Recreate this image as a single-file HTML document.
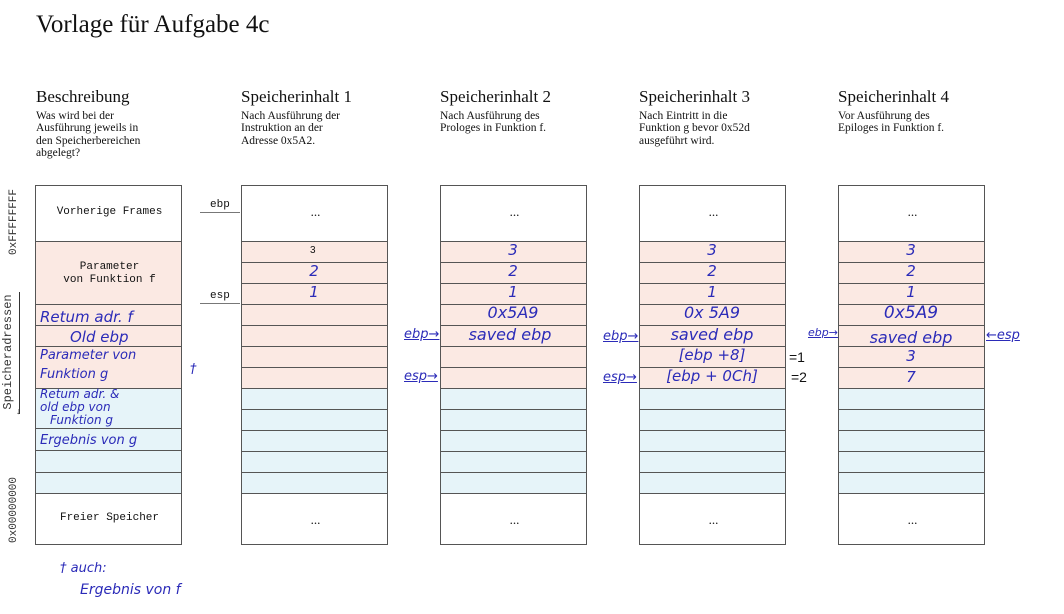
<!DOCTYPE html>
<html><head><meta charset="utf-8"><style>
body{margin:0;width:1064px;height:614px;background:#fff;position:relative;overflow:hidden;font-family:"Liberation Serif",serif;color:#111}
.a{position:absolute;white-space:nowrap}
.h{font-size:17px}
.d{font-size:11.5px;line-height:12.3px}
.col{position:absolute;top:185px;width:147px;height:360px;border:1px solid #555;box-sizing:border-box}
.r{position:absolute;left:0;right:0;border-top:1px solid #555;box-sizing:border-box}
.mono{font-family:"Liberation Mono",monospace;font-size:11px}
.hw{position:absolute;font-family:"DejaVu Sans",sans-serif;font-style:italic;color:#2b2bb8;white-space:nowrap;transform:translateX(-50%);font-size:15px}
.hwl{position:absolute;font-family:"DejaVu Sans",sans-serif;font-style:italic;color:#2b2bb8;white-space:nowrap;font-size:13px}
</style></head><body>
<div class="a" style="left:36px;top:11px;font-size:25px">Vorlage für Aufgabe 4c</div>

<div class="a h" style="left:36px;top:87px">Beschreibung</div>
<div class="a d" style="left:36px;top:110px">Was wird bei der<br>Ausführung jeweils in<br>den Speicherbereichen<br>abgelegt?</div>
<div class="a h" style="left:241px;top:87px">Speicherinhalt 1</div>
<div class="a d" style="left:241px;top:110px">Nach Ausführung der<br>Instruktion an der<br>Adresse 0x5A2.</div>
<div class="a h" style="left:440px;top:87px">Speicherinhalt 2</div>
<div class="a d" style="left:440px;top:110px">Nach Ausführung des<br>Prologes in Funktion f.</div>
<div class="a h" style="left:639px;top:87px">Speicherinhalt 3</div>
<div class="a d" style="left:639px;top:110px">Nach Eintritt in die<br>Funktion g bevor 0x52d<br>ausgeführt wird.</div>
<div class="a h" style="left:838px;top:87px">Speicherinhalt 4</div>
<div class="a d" style="left:838px;top:110px">Vor Ausführung des<br>Epiloges in Funktion f.</div>

<!-- vertical labels -->
<div class="a mono" style="left:14px;top:222px;transform:translate(-50%,-50%) rotate(-90deg);color:#333">0xFFFFFFFF</div>
<div class="a mono" style="left:14px;top:510px;transform:translate(-50%,-50%) rotate(-90deg);color:#333">0x00000000</div>
<div class="a mono" style="left:8px;top:352px;transform:translate(-50%,-50%) rotate(-90deg);color:#333;font-size:12px">Speicheradressen</div>
<div class="a" style="left:19px;top:292px;width:1px;height:122px;background:#333"></div>
<div class="a" style="left:16px;top:406px;font-size:9px;color:#333">&#8595;</div>

<!-- column 1 -->
<div class="col" style="left:35px">
 <div class="r" style="top:55px;height:147px;background:#fbe9e3"></div>
 <div class="r" style="top:202px;height:105px;background:#e6f4f9"></div>
 <div class="r" style="top:118px"></div><div class="r" style="top:139px"></div><div class="r" style="top:160px"></div><div class="r" style="top:202px"></div><div class="r" style="top:242px"></div><div class="r" style="top:264px"></div><div class="r" style="top:286px"></div><div class="r" style="top:307px"></div>
 <div class="a mono" style="left:0;width:147px;text-align:center;top:20px">Vorherige Frames</div>
 <div class="a mono" style="left:0;width:147px;text-align:center;top:75px;line-height:13px">Parameter<br>von Funktion f</div>
 <div class="a mono" style="left:0;width:147px;text-align:center;top:326px">Freier Speicher</div>
</div>
<div class="hwl" style="left:40px;top:308px;font-size:15px">Retum adr. f</div>
<div class="hwl" style="left:70px;top:328px;font-size:15px">Old ebp</div>
<div class="hwl" style="left:40px;top:348px">Parameter von</div>
<div class="hwl" style="left:40px;top:367px">Funktion g</div>
<div class="hwl" style="left:40px;top:387px;font-size:12px">Retum adr. &amp;</div>
<div class="hwl" style="left:40px;top:400px;font-size:12px">old ebp von</div>
<div class="hwl" style="left:50px;top:413px;font-size:12px">Funktion g</div>
<div class="hwl" style="left:40px;top:433px">Ergebnis von g</div>
<div class="hwl" style="left:190px;top:362px">&#8224;</div>
<div class="hwl" style="left:60px;top:561px">&#8224; auch:</div>
<div class="hwl" style="left:80px;top:582px;font-size:14px">Ergebnis von f</div>

<!-- memory columns -->
<script>
const xs=[241,440,639,838];
let h='';
for(const x of xs){
 h+=`<div class="col" style="left:${x}px">`;
 h+=`<div class="r" style="top:55px;height:147px;background:#fbe9e3"></div><div class="r" style="top:202px;height:105px;background:#e6f4f9"></div>`;
 for(let i=0;i<=12;i++)h+=`<div class="r" style="top:${55+i*21}px"></div>`;
 h+=`<div class="a" style="left:0;width:147px;text-align:center;top:18px;font-size:13px">...</div>`;
 h+=`<div class="a" style="left:0;width:147px;text-align:center;top:326px;font-size:13px">...</div></div>`;
}
document.write(h);
</script>

<!-- col 1 arrows -->
<div class="a mono" style="left:210px;top:199px">ebp</div>
<div class="a" style="left:200px;top:212px;width:40px;height:1px;background:#777"></div>
<div class="a mono" style="left:210px;top:290px">esp</div>
<div class="a" style="left:200px;top:303px;width:40px;height:1px;background:#777"></div>
<div class="a" style="left:310px;top:245px;font-size:10px;font-family:'Liberation Sans',sans-serif">3</div>
<div class="hw" style="left:314px;top:262px">2</div>
<div class="hw" style="left:314px;top:283px">1</div>

<!-- col 2 -->
<div class="hw" style="left:513px;top:241px">3</div>
<div class="hw" style="left:513px;top:262px">2</div>
<div class="hw" style="left:513px;top:283px">1</div>
<div class="hw" style="left:513px;top:303px;font-size:16px">0x5A9</div>
<div class="hw" style="left:510px;top:325px;font-size:16px">saved ebp</div>
<div class="hwl" style="left:404px;top:327px;text-decoration:underline">ebp&#8594;</div>
<div class="hwl" style="left:404px;top:369px;text-decoration:underline">esp&#8594;</div>

<!-- col 3 -->
<div class="hw" style="left:712px;top:241px">3</div>
<div class="hw" style="left:712px;top:262px">2</div>
<div class="hw" style="left:712px;top:283px">1</div>
<div class="hw" style="left:712px;top:303px;font-size:16px">0x 5A9</div>
<div class="hw" style="left:712px;top:325px;font-size:16px">saved ebp</div>
<div class="hw" style="left:712px;top:346px;font-size:15px">[ebp +8]</div>
<div class="hw" style="left:712px;top:367px;font-size:15px">[ebp + 0Ch]</div>
<div class="hwl" style="left:603px;top:329px;text-decoration:underline">ebp&#8594;</div>
<div class="hwl" style="left:603px;top:370px;text-decoration:underline">esp&#8594;</div>
<div class="a" style="left:789px;top:349px;font-family:'Liberation Sans',sans-serif;font-size:14px">=1</div>
<div class="a" style="left:791px;top:369px;font-family:'Liberation Sans',sans-serif;font-size:14px">=2</div>

<!-- col 4 -->
<div class="hw" style="left:911px;top:241px">3</div>
<div class="hw" style="left:911px;top:262px">2</div>
<div class="hw" style="left:911px;top:283px">1</div>
<div class="hw" style="left:911px;top:303px;font-size:17px">0x5A9</div>
<div class="hw" style="left:911px;top:328px;font-size:16px">saved ebp</div>
<div class="hw" style="left:911px;top:347px">3</div>
<div class="hw" style="left:911px;top:368px">7</div>
<div class="hwl" style="left:808px;top:326px;font-size:11px;text-decoration:underline">ebp&#8594;</div>
<div class="hwl" style="left:986px;top:328px;text-decoration:underline">&#8592;esp</div>
</body></html>
